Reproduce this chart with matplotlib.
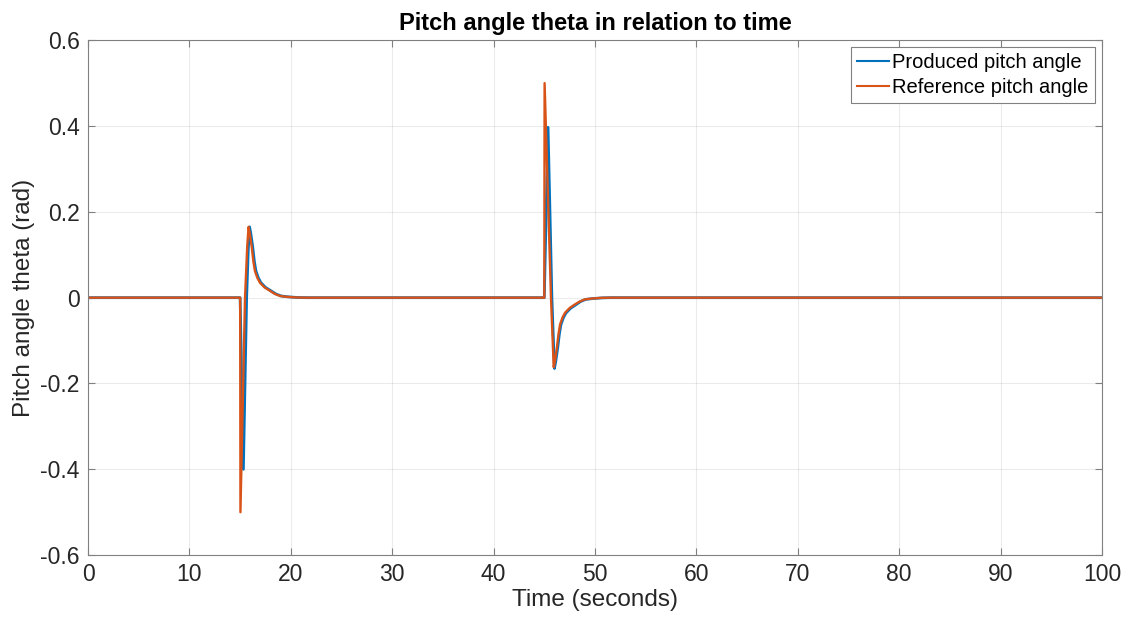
import matplotlib
matplotlib.use("Agg")
import matplotlib.pyplot as plt
import numpy as np

# values
t_reference = [0, 15.0, 15.03, 15.48, 15.7, 15.83, 15.95, 16.15, 16.3, 16.46, 16.7, 16.95, 17.4,
               17.94, 18.4, 18.93, 19.6, 20.5, 21.5,
               45.0, 45.03, 45.66, 45.93, 46.05, 46.25, 46.4, 46.56, 46.8, 47.05, 47.5,
               48.0, 48.5, 49.0, 49.7, 50.6, 51.5, 100]
theta_reference = [0, 0, -0.50, 0.0, 0.12, 0.165, 0.15, 0.117, 0.085, 0.062, 0.046, 0.035, 0.024,
                   0.016, 0.009, 0.004, 0.002, 0.0005, 0.0,
                   0, 0.50, 0.0, -0.162, -0.148, -0.115, -0.085, -0.062, -0.046, -0.035, -0.024,
                   -0.016, -0.009, -0.004, -0.002, -0.0005, 0.0, 0]

t_produced = [0, 15.0, 15.32, 15.64, 15.8, 15.93, 16.05, 16.25, 16.4, 16.56, 16.8, 17.05, 17.5,
              18.04, 18.5, 19.03, 19.7, 20.6, 21.6,
              45.0, 45.37, 45.75, 46.0, 46.12, 46.33, 46.48, 46.64, 46.88, 47.13, 47.58,
              48.08, 48.58, 49.08, 49.8, 50.7, 51.6, 100]
theta_produced = [0, 0, -0.40, 0.0, 0.11, 0.165, 0.15, 0.117, 0.085, 0.062, 0.046, 0.035, 0.024,
                  0.016, 0.009, 0.004, 0.002, 0.0005, 0.0,
                  0, 0.397, 0.0, -0.165, -0.15, -0.116, -0.086, -0.063, -0.047, -0.036, -0.025,
                  -0.017, -0.009, -0.004, -0.002, -0.0005, 0.0, 0]

x_ticks = list(range(0, 101, 10))
y_ticks = [-0.6, -0.4, -0.2, 0, 0.2, 0.4, 0.6]
y_ticklabels = ["-0.6", "-0.4", "-0.2", "0", "0.2", "0.4", "0.6"]

plt.rcParams['font.family'] = ['Liberation Sans', 'DejaVu Sans']

fig = plt.figure(figsize=(11.29, 6.28), dpi=100)
ax = fig.add_axes([0.078, 0.116, 0.898, 0.820])

blue = (0, 0.447, 0.741)
orange = (0.85, 0.325, 0.098)
ax.plot(t_produced, theta_produced, color=blue, lw=2.0, label="Produced pitch angle",
        solid_joinstyle="round")
ax.plot(t_reference, theta_reference, color=orange, lw=1.7, label="Reference pitch angle",
        solid_joinstyle="round")

ax.set_xlim(0, 100)
ax.set_ylim(-0.6, 0.6)
ax.set_xticks(x_ticks)
ax.set_yticks(y_ticks)
ax.set_yticklabels(y_ticklabels)
ax.grid(True, color=(0.15, 0.15, 0.15), alpha=0.09, lw=0.8)
ax.set_axisbelow(True)
ax.tick_params(direction="in", length=5, width=0.8, colors=(0.5, 0.5, 0.5),
               labelcolor=(0.15, 0.15, 0.15), labelsize=16.5, top=True, right=True, pad=6)
for s in ax.spines.values():
    s.set_color((0.5, 0.5, 0.5))
    s.set_linewidth(0.8)

ax.set_xlabel("Time (seconds)", fontsize=17.5, color=(0.15, 0.15, 0.15), labelpad=2)
ax.set_ylabel("Pitch angle theta (rad)", fontsize=17.5, color=(0.15, 0.15, 0.15), labelpad=4)
ax.set_title("Pitch angle theta in relation to time", fontsize=17, fontweight="bold", pad=7)

leg = ax.legend(loc="upper right", fontsize=14.5, fancybox=False, framealpha=1,
                edgecolor=(0.5, 0.5, 0.5), handlelength=1.6, handletextpad=0.15,
                borderpad=0.3, labelspacing=0.3, borderaxespad=0.35)
leg.get_frame().set_linewidth(0.8)
for h in leg.get_lines():
    h.set_linewidth(1.5)

fig.savefig("out.png", dpi=100)
